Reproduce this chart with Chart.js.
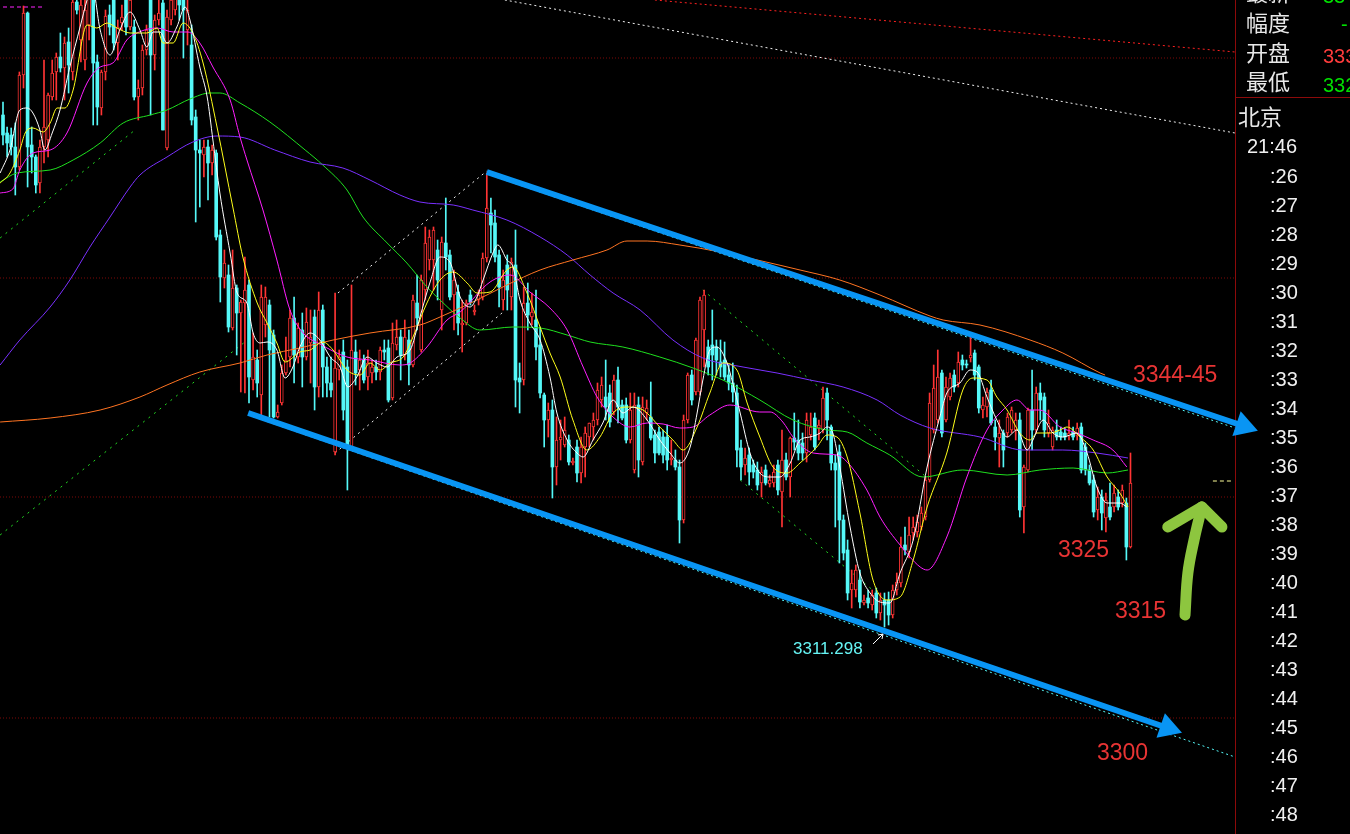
<!DOCTYPE html>
<html>
<head>
<meta charset="utf-8">
<script src="https://cdn.jsdelivr.net/npm/chart.js@4.4.1/dist/chart.umd.min.js"></script>
<style>
  html, body { margin: 0; padding: 0; background: #000; }
  #wrap { position: relative; width: 1350px; height: 834px; }
</style>
</head>
<body>
<div id="wrap"><canvas id="kline"></canvas></div>
<script>
// candles, one per bar index (0..275)
var openP = [
3362.5,3360.7,3360.5,3359.3,3357.3,3366.5,3372.7,3359.5,3358.3,3355.7,
3359.3,3360,3364.3,3366.8,3368.3,3367.2,3369.8,3366.8,3373.8,3370,
3368,3371.5,3374.5,3367.8,3363.2,3366.8,3372.5,3374,3369.7,3371.7,
3374,3371.3,3371.3,3364.3,3365.2,3369,3374,3368.5,3372,3373.7,
3359.2,3372,3373,3374.5,3374,3371,3369.5,3362.3,3359,3358.5,
3359.3,3357.7,3358.7,3350.5,3346.2,3346.5,3341.2,3345.2,3342.7,3343.7,
3345.5,3336,3338,3334.5,3341.5,3343.5,3340.5,3332.3,3333.7,3336.7,
3338.3,3342.2,3338.3,3341,3338.3,3339.7,3342.3,3335.3,3343,3337.3,
3335.7,3328.8,3337,3338.8,3337.3,3329.3,3338.8,3337,3338,3336.3,
3336.7,3337.3,3336.8,3339,3339.2,3334.2,3339.5,3340.3,3338.5,3340,
3337.5,3343.7,3339,3345,3348,3348,3349,3343,3349.7,3348.5,
3344.5,3344.8,3341.5,3341.7,3344.5,3342.8,3344,3344.3,3348.2,3352.7,
3351.7,3348.5,3344,3347.5,3344.3,3347.5,3336.2,3336,3343.7,3342.3,
3342,3339.5,3334.5,3332,3333,3327.3,3330,3329.5,3330,3327.7,
3329.3,3326.7,3329.3,3330.3,3331.3,3332,3334,3334.3,3334.7,3332.8,
3336,3333.5,3333.5,3330,3327,3333.5,3327.8,3332.7,3332.3,3330.5,
3330.8,3330.3,3330.3,3328,3328,3327.3,3322,3332,3336.5,3334.8,
3334.8,3341,3339.3,3339.5,3339.3,3337.8,3338,3336.5,3335.7,3334.7,
3329.2,3327.5,3328.5,3327.5,3327,3325.7,3327,3325.6,3325.7,3327.5,
3324.8,3328,3326.3,3330.2,3330,3329.7,3328.7,3330.5,3332.2,3331.2,
3331,3334.7,3331.3,3327.7,3328.8,3322,3319,3315,3315,3316,
3313.7,3314.2,3313.5,3314.7,3312.7,3314,3314,3312.5,3315,3315.7,
3319.5,3318.8,3320.7,3320.8,3321.3,3322.3,3326,3331,3332,3336.7,
3332,3334.3,3336.5,3335.7,3338,3337.6,3338.2,3338.7,3337.3,3333,
3333.3,3335,3331.3,3330.2,3330.7,3330.7,3331,3331,3332,3323.3,
3327,3333,3331,3334.7,3334.3,3330.7,3329.3,3331,3330.8,3330.7,
3330.4,3330.8,3330.4,3331.3,3329.3,3327,3326,3323,3324.3,3322.2,
3323.3,3323.3,3324.3,3323.7,3323.7,3319.3
];
var highP = [
3363.8,3361.3,3361.2,3361.7,3366.8,3373.4,3372.8,3361.3,3358.5,3360,
3368,3364.7,3368,3368.7,3370.7,3370.3,3371.2,3374,3374.5,3374,
3374,3375.5,3375.5,3368.5,3367,3373,3373.5,3375,3372,3373.5,
3375,3375,3372,3366,3369.5,3371.5,3375,3372.5,3374,3374.5,
3373,3375,3375.5,3375.5,3375,3374,3371.5,3363,3360,3360,
3360,3359.5,3359,3351,3349,3347.5,3349,3345.5,3344,3348.3,
3346,3340.7,3339,3345.5,3345.3,3344,3341,3333.5,3337.5,3340.3,
3343,3344.3,3341.7,3342.7,3343.2,3343,3343,3344.8,3343.5,3338.3,
3338.3,3344.7,3339,3340,3338,3345.5,3340,3339,3338.5,3339,
3338,3338,3339.3,3340,3340,3341.7,3342,3341,3342,3341,
3344.5,3346.5,3346.5,3351.3,3351,3351.3,3350,3350.3,3354.2,3349,
3347,3345.5,3344,3344,3345,3343.5,3345,3348.7,3356.7,3354.2,
3353,3349,3347,3348.5,3348.2,3351,3337.7,3345.3,3345.7,3344.7,
3345,3341.3,3334.7,3333.7,3334,3332.3,3332,3332.3,3330.5,3328.2,
3330,3330.3,3331.3,3331.7,3332.7,3335.7,3336.3,3338,3335.5,3336.5,
3337.3,3334,3334.2,3334.7,3334.7,3334.3,3334.3,3334,3335.8,3331,
3331.3,3331,3331.5,3330,3329,3328,3332.5,3336.7,3337,3340.2,
3344.3,3345,3340,3343,3340,3340,3339.8,3337.5,3337.7,3335.5,
3330,3329.2,3329.2,3328,3327.8,3327.3,3327.5,3326.5,3327.5,3328,
3331,3328.7,3330.3,3332.7,3332,3330.7,3332.7,3332.7,3332.7,3332,
3335.3,3335.2,3331.5,3328.5,3329.5,3322.5,3320,3317,3317.5,3317,
3314.5,3315,3315,3315.2,3314.7,3314.7,3314.8,3315.5,3316.7,3320.3,
3321.3,3322.3,3322.3,3322.5,3323.3,3326.3,3334.7,3337.5,3339,3337,
3336.3,3336.7,3337,3338.8,3338.5,3338,3340.3,3339,3337.5,3334.3,
3335.2,3336,3332,3332,3331,3332.7,3333.3,3332.7,3332.7,3327.5,
3333.2,3337,3335.3,3335.7,3334.7,3333,3331.3,3332,3331.3,3331.2,
3332,3331.3,3331.7,3331.7,3329.7,3327.5,3326.5,3325.3,3325,3324.7,
3325.7,3325.5,3325,3325.5,3324.2,3328.7
];
var lowP = [
3359.5,3358.3,3358.5,3354.5,3357,3365.2,3355.3,3356.7,3354.7,3354.7,
3357.7,3358.3,3364,3364,3366.8,3364,3364.7,3366,3372.6,3367.8,
3367,3370,3361.5,3361.5,3362.5,3366,3370.5,3369,3368,3371,
3370.5,3371,3364,3362,3364.5,3368.5,3362.5,3367,3371.5,3361,
3359,3371.5,3372.5,3372,3368.2,3369.5,3361.5,3351.8,3353.3,3356.3,
3354,3356.5,3350,3343.8,3345.2,3340.8,3341,3338.5,3334.8,3334.7,
3333.7,3335,3334.3,3332.5,3340.3,3332.3,3332.2,3332.2,3333.5,3336.5,
3337.3,3335.7,3337.7,3335.3,3338,3335.7,3333,3334.3,3334.3,3334.3,
3334.3,3328.5,3336,3332,3325,3329,3335.5,3335,3335.7,3335,
3335.7,3336,3336,3338,3333.8,3334,3339,3336,3338,3335.5,
3337.3,3341,3338.8,3344,3347,3345,3344,3341,3347,3344,
3341,3340.5,3338.8,3341.5,3343.5,3342.5,3343.5,3344,3347.8,3348.7,
3347.8,3343.3,3343,3343,3343,3333.3,3332.7,3335.5,3341,3341.5,
3338,3334.2,3329.3,3330.3,3324.2,3325.5,3328,3329.3,3327.5,3327.5,
3325.8,3325.7,3326.3,3329.3,3330,3331.5,3333.3,3332,3331.3,3332.5,
3331.7,3332,3329.7,3329.7,3326.7,3326.3,3327.5,3332,3330,3327.7,
3328.5,3327.7,3327,3327.5,3327,3319.7,3321.7,3331.7,3333.5,3334.5,
3334.5,3337.3,3336.5,3336,3336.5,3336.3,3336,3335,3333.8,3327.3,
3326,3326.5,3325.5,3326.2,3325,3324.3,3325.5,3325.3,3325.3,3324.5,
3321.3,3326,3324.3,3329,3328,3328,3327.8,3330,3329,3330,
3330.7,3330,3327,3321.3,3317.7,3318,3314,3313.2,3314.3,3313.2,
3313.5,3313.2,3313,3312.2,3312,3311.3,3311.5,3312.2,3314.5,3315.3,
3318.5,3318.2,3320,3320.3,3321,3322,3325.8,3330.7,3331.7,3330.3,
3331.8,3334,3334.8,3335.3,3337,3337.2,3337.8,3336,3332.7,3332.2,
3332.3,3331.5,3329,3327.3,3327.3,3330.3,3330.7,3330,3322.3,3320.7,
3326.8,3329,3330.7,3332,3330.3,3330.3,3329,3330,3330,3330,
3330,3330,3330,3326.7,3326.5,3325.5,3322.3,3322,3321,3320.8,
3322,3322.8,3323,3323.3,3318,3319.2
];
var closeP = [
3360.5,3359.7,3359.3,3357.3,3366.5,3372.7,3359.3,3358.3,3355.5,3359.3,
3361.3,3364.5,3366.7,3368.3,3367.2,3369.7,3367.5,3373.8,3373,3373.5,
3373,3374.5,3367.7,3363.3,3366.8,3372.4,3371.3,3369.7,3371.3,3372.3,
3371.3,3374,3364.3,3365.2,3369,3371,3368.5,3372,3372.7,3361,
3372.3,3374,3374.5,3373.5,3373,3373,3362,3359,3358.7,3359.3,
3357.7,3359,3350.3,3346.3,3347.7,3341.3,3345.2,3342.7,3343.8,3345,
3336.3,3338.3,3335.7,3344.3,3344.3,3339,3332.3,3332.8,3336.7,3338,
3342.2,3338.5,3341.2,3338.3,3341.8,3340.3,3335.3,3343,3337.3,3335.7,
3335,3337.2,3338.3,3333,3329.5,3339,3336.7,3338,3336,3337.7,
3337.3,3336.8,3339,3338.8,3334,3339.7,3340.3,3338.5,3340.3,3337.5,
3344,3342.2,3346,3349.7,3350.3,3351,3346,3349.8,3348.3,3344.3,
3346,3341.7,3341.7,3343.7,3343.8,3343,3344.5,3348.2,3353.2,3351.5,
3348.3,3345.3,3346,3345,3347.8,3336,3335.8,3343.7,3342.5,3342.8,
3339.3,3334.7,3332,3333,3327.3,3330,3330.3,3331,3327.8,3327.9,
3326.7,3329.3,3330.7,3331.7,3332,3335,3335.5,3333.3,3331.8,3336,
3333.3,3332.2,3330,3333,3333.5,3328,3333.3,3333.2,3330.2,3328.7,
3328.7,3328.5,3328,3328.2,3327.3,3322,3332,3336.5,3334,3340,
3344,3344.5,3337.3,3338.5,3338,3337.3,3336.3,3335.7,3334.8,3329,
3327.3,3328.2,3326.8,3326.8,3325.5,3326.8,3325.7,3326,3326.8,3325,
3328,3326.3,3330.2,3329.8,3328.7,3328.7,3332,3331.3,3329.3,3331.5,
3334.2,3332,3327.7,3327,3322,3318.7,3314.7,3315.7,3317,3313.8,
3314,3313.7,3314.5,3312.7,3314,3313.5,3312.5,3315,3315.8,3319.3,
3319,3320.5,3321.3,3321.8,3322.7,3326,3333.7,3335.2,3336.3,3330.7,
3335.3,3336.2,3335.3,3337.8,3337.5,3337.5,3338.5,3336.5,3333.2,3333.5,
3334.8,3331.7,3330.3,3330.7,3329,3332.3,3333,3332,3323,3327.3,
3333,3331,3334.7,3334,3331,3331.7,3331,3330.3,3330.3,3330.3,
3330.7,3330.3,3331.2,3327,3327,3325.7,3322.8,3324.3,3322.7,3324,
3322.3,3324.7,3323.3,3325,3319.3,3325.7
];

// moving averages, [bar index, price]
var maWhite = [[-0.7,3356.7],[1.7,3359],[4.1,3363],[5.9,3363.2],[7.3,3362.7],[9,3361],[10.2,3359],[12,3360.7],[13.9,3363],[16.3,3367.3],[18.8,3371.3],[20.5,3374],[21.7,3375.5],[23.7,3371],[26.1,3368.5],[28.5,3371],[31,3372.8],[33.4,3371],[35.1,3369.3],[36.6,3370.8],[38.3,3370.8],[40,3369.7],[42.4,3371.3],[44.4,3373.3],[45.6,3372],[48,3367.3],[49.8,3364.3],[51.2,3360],[52.9,3354.7],[55.4,3348.7],[57.1,3344.7],[59.5,3343.7],[61,3340.7],[62.7,3339.7],[64.4,3339.8],[66.8,3339],[68.8,3336.2],[70.7,3337.3],[72.4,3339.3],[74.9,3340.7],[77.3,3340],[79.8,3338.3],[82.2,3337.3],[84.1,3335.3],[86.3,3336.3],[88.8,3338.3],[91.2,3337.7],[93.7,3337.3],[96.1,3338.3],[99.3,3339],[101.7,3342.3],[104.1,3345.7],[106.6,3348.3],[109,3347.8],[111.5,3344.3],[113.9,3343.3],[115.6,3344.3],[117.1,3346],[119.5,3348.7],[120.7,3349.5],[122.9,3348],[124.4,3347.3],[126.1,3344],[128.5,3341.7],[131,3340],[133.4,3336.3],[135.1,3332.7],[137.6,3330],[140,3328.7],[141.5,3328.3],[143.9,3330],[146.3,3331.7],[148.8,3334],[151.2,3332.7],[153.7,3333.3],[157.1,3332],[160.2,3330],[162.7,3328.7],[165.1,3327.7],[167.6,3329.3],[169.3,3332.7],[170.7,3336],[172.4,3339],[174.1,3339.3],[176.6,3337.7],[178,3335.7],[179.8,3332.7],[182.2,3328.7],[184.6,3326.7],[187.1,3326.3],[189.5,3326.3],[192,3327.7],[194.4,3330],[196.8,3330.3],[199.3,3330.7],[201,3331.3],[202.4,3330.7],[204.1,3327.3],[206.6,3321.3],[209,3316.7],[211.5,3314.7],[213.9,3313.8],[216.3,3313.7],[218.8,3316.7],[222,3320],[225.4,3327.3],[228.5,3332.3],[230.2,3334.7],[233.4,3335.7],[235.9,3337],[237.6,3336.8],[240,3334.3],[242.4,3332],[244.9,3330.3],[247.3,3331],[249.8,3329],[251.2,3330],[253.7,3332],[256.1,3330.7],[258.5,3330.3],[261.9,3330.7],[264.4,3328.7],[266.8,3325.3],[269.3,3323.7],[272.4,3323.7],[274.1,3323.3]];
var maYellow = [[-0.7,3355.7],[1.7,3356.7],[4.1,3359],[5.4,3360.7],[7.3,3361.2],[9.8,3360.8],[11.5,3361.7],[13.2,3363.2],[15.1,3363.2],[17.1,3365],[20.5,3371.5],[22.9,3371.2],[25.4,3371.7],[27.8,3371.2],[31,3370.7],[35.1,3370.7],[37.6,3371.2],[39,3369.7],[41.5,3369.7],[43.9,3371.7],[46.3,3370.7],[48.8,3367.7],[52.2,3361.3],[56.1,3353.2],[58.5,3348.3],[62,3343.7],[64.4,3341.7],[66.8,3339.7],[68.8,3337.8],[72.4,3338.8],[74.9,3339],[78,3339.8],[80.5,3339],[83.9,3337],[87.1,3336.5],[89.5,3337.7],[92,3337],[94.4,3337.7],[97.6,3338.3],[100,3340.3],[103.4,3343.7],[106.6,3346],[109.8,3346.8],[113.2,3345.7],[115.6,3344.7],[118.8,3344.8],[122.9,3347],[124.4,3347.3],[127.8,3344.7],[131,3341.3],[133.4,3338.7],[135.9,3336.3],[139,3332],[142.4,3329],[145.6,3330.3],[148.8,3332.7],[152.2,3333.3],[156.1,3333],[160.2,3331.3],[163.4,3330],[165.9,3329],[169.3,3331.3],[172.4,3334.7],[175.6,3337.7],[179,3337],[181.5,3333.7],[184.6,3330.3],[187.8,3327.3],[191.2,3326.7],[194.4,3327.7],[198.5,3329.3],[201,3330.5],[203.4,3330.3],[205.9,3328.3],[209,3322.7],[212.2,3316],[215.6,3314],[218.8,3314.3],[222,3318],[225.4,3323.3],[230.2,3328.7],[234.1,3335],[236.6,3336.2],[240,3336],[242.4,3334.3],[244.9,3333],[248,3330.7],[250.5,3330],[252.2,3330.7],[255.4,3330.7],[257.8,3331],[259.5,3331.3],[262.7,3330.3],[265.9,3329],[269.3,3326.3],[272.4,3324.7],[274.4,3323.3]];
var maMagenta = [[-0.7,3354.7],[2.4,3355.1],[4.1,3357],[7.3,3358.7],[11.5,3359],[15.6,3360.7],[20.5,3365.7],[23.7,3367.3],[26.8,3367.7],[30.2,3370],[31.7,3370.5],[37.6,3371.2],[41.5,3370.8],[45.1,3370.8],[48,3369.7],[51.2,3367.3],[55.4,3364],[57.8,3360.3],[59.5,3358],[63.4,3353],[66.8,3348],[70,3343],[73.2,3340.7],[77.3,3339.6],[83.9,3338.3],[89.5,3338],[96.8,3337.5],[99.3,3337.7],[103.4,3339.3],[108.3,3342],[111.5,3342.8],[118.8,3345.8],[123.7,3346.5],[128.5,3344.8],[133.4,3343.2],[137.6,3341],[141.5,3337.3],[144.9,3334.3],[148.8,3332.3],[152.9,3331.3],[157.1,3331.7],[161,3331.6],[165.1,3331.2],[168.3,3331.3],[172.4,3332.5],[177.3,3333.5],[184.6,3332.8],[187.1,3332.8],[190.2,3331.8],[192.7,3330.3],[197.6,3328.7],[203.4,3328.5],[205.9,3327.8],[210.7,3325],[213.9,3322.3],[218.8,3319.5],[223.7,3317.3],[225.4,3317],[230.2,3320.3],[235.1,3326.3],[240,3331],[243.9,3333],[247.3,3334],[250.5,3333],[252.9,3333],[257.8,3331.3],[261.9,3330.7],[265.9,3330],[270.7,3329],[274.1,3327.3]];
var maGreen = [[-0.7,3355.8],[3.4,3356.7],[11.5,3357],[17.1,3358],[23.7,3359.7],[29.3,3361.7],[35.9,3362.5],[40,3363],[45.6,3364.1],[50.5,3364.7],[52.9,3364.7],[57.8,3363.7],[65.1,3361.8],[73.7,3359],[78,3357.5],[83.9,3355],[87.8,3352.3],[93.7,3349.7],[98.5,3347.7],[103.4,3345.3],[106.6,3344],[111.5,3342.2],[116.3,3341],[124.4,3341.3],[131,3341.2],[137.6,3340.5],[143.2,3339.8],[151.2,3339.3],[160.2,3338.3],[168.3,3337.2],[176.6,3335.8],[184.6,3334],[192.7,3332],[201,3331],[205.9,3330.8],[210.7,3329.7],[216.3,3328.5],[224.4,3326.3],[234.1,3327],[244.9,3326.5],[252.9,3327],[261,3327.2],[269.3,3326.7],[274.4,3327]];
var maPurple = [[-0.7,3337.5],[4.1,3340],[11.5,3343.3],[16.3,3346],[21.2,3349.3],[26.1,3352.3],[31,3355.3],[33.4,3356.5],[40,3358.3],[46.3,3359.8],[52.2,3360.4],[57.8,3360.3],[66.3,3359],[74.9,3357.8],[82.9,3357.2],[89.5,3356],[96.8,3354.5],[101.7,3353.8],[109.8,3353.5],[114.6,3353],[122.9,3352],[131,3350.3],[137.6,3348.5],[143.2,3346.5],[148.8,3344.7],[155.4,3343],[163.4,3340],[170.7,3338.2],[180.5,3337.3],[188.8,3336.7],[196.8,3336],[204.9,3335.3],[213.2,3334],[218.8,3332.5],[226.1,3331.2],[238.3,3330.3],[248.8,3329],[258.5,3329],[266.8,3328.7],[274.4,3328.2]];
var maOrange = [[-0.7,3331.8],[11.5,3332.2],[23.7,3333],[33.4,3334.3],[40,3335.5],[48,3336.8],[57.8,3337.7],[64.4,3338.5],[72.4,3339.2],[80.5,3340],[89.5,3340.7],[101.7,3341.5],[106.6,3342.3],[114.6,3343.8],[122.9,3345.5],[131,3347],[139,3348],[147.3,3349],[152.2,3349.9],[157.1,3349.9],[165.1,3349.5],[174.9,3348.8],[194.4,3347],[204.1,3346],[213.9,3344.5],[226.1,3342.4],[229.3,3342],[238.3,3341.5],[250.5,3340],[258.5,3338.7],[267.6,3336.7],[268.8,3336.5]];

// drawn objects on the chart, [bar index, price]
var gridLevels = [3368.2, 3346.2, 3324.3, 3302.2];
var arrowUpper = [[118, 3356.8], [302.6, 3331.4]];
var arrowLower = [[59.8, 3332.7], [284.1, 3301.2]];
var dotCyanUpper = [[118, 3356.6], [300.5, 3331.2]];
var dotCyanLower = [[59.8, 3332.5], [300.5, 3298.3]];
var dotWhiteTop = [[122.4, 3374], [300.5, 3360.7]];
var dotRedTop = [[159, 3374], [300.5, 3368.8]];
var dotGreenA = [[-0.7, 3350.2], [32.2, 3361]];
var dotGreenB = [[-0.7, 3320.5], [59, 3339.8]];
var dotBoxUpper = [[81.7, 3344.7], [118, 3356.9]];
var dotBoxLower = [[81, 3328.7], [122, 3342.8]];
var dotGreenMidUpper = [[170.7, 3345], [224.9, 3326.4]];
var dotGreenMidLower = [[179.8, 3326], [212.7, 3314.8]];
var lastPriceMark = [[295.1, 3325.9], [300, 3325.9]];
var topLeftMark = [[0, 3373.3], [10.2, 3373.3]];
var handShaft = [[288.3, 3312.5], [289, 3316.7], [290.5, 3320], [292.4, 3323.3]];
var handHead = [[284.1, 3321.3], [292.4, 3323.3], [297.3, 3321.3]];

// texts
var targetLabels = ['3344-45', '3325', '3315', '3300'];
var lowLabel = '3311.298';
var quoteNames = ['最新', '幅度', '开盘', '最低'];
var quoteValues = ['33', '-', '333', '332'];
var timeLabels = [':26',':27',':28',':29',':30',':31',':32',':33',':34',':35',':36',':37',':38',':39',':40',':41',':42',':43',':44',':45',':46',':47',':48'];

var UP = '#ff3434', DOWN = '#55f8f8', BLUE = '#0995f4';

var wicks = [], bodies = [], wickCol = [], bodyFill = [], bodyEdge = [], bodyBw = [];
for (var i = 0; i < openP.length; i++) {
    var up = closeP[i] >= openP[i];
    wicks.push({ x: i, y: [lowP[i], highP[i]] });
    bodies.push({ x: i, y: [openP[i], closeP[i]] });
    wickCol.push(up ? UP : DOWN);
    bodyFill.push(up ? '#000' : DOWN);
    bodyEdge.push(up ? UP : DOWN);
    bodyBw.push(up ? 1 : 0);
}

function pts(arr) { return arr.map(function (p) { return { x: p[0], y: p[1] }; }); }

function seg(arr, color, width, dash, order) {
    return { type: 'line', data: pts(arr), borderColor: color, borderWidth: width,
        borderDash: dash || [], pointRadius: 0, fill: false, tension: 0, order: order };
}
function ma(arr, color, order) {
    var d = seg(arr, color, 1, null, order);
    d.cubicInterpolationMode = 'monotone';
    return d;
}
function head(p, rot, r) {
    return { type: 'line', data: pts([p]), showLine: false, pointStyle: 'triangle',
        pointRadius: r, pointRotation: rot, pointBackgroundColor: BLUE,
        pointBorderWidth: 0, order: 2 };
}

var datasets = [];
gridLevels.forEach(function (g) {
    datasets.push(seg([[-0.73, g], [300.5, g]], '#7d0808', 1, [1, 2], 20));
});
datasets.push(seg(dotWhiteTop, '#f0f0f0', 1, [2, 3], 15));
datasets.push(seg(dotRedTop, '#ff2020', 1, [2, 3], 15));
datasets.push(seg(dotGreenA, '#22dd22', 1, [2, 5], 15));
datasets.push(seg(dotGreenB, '#22dd22', 1, [2, 5], 15));
datasets.push(seg(dotBoxUpper, '#f0f0f0', 1, [2, 4], 15));
datasets.push(seg(dotBoxLower, '#f0f0f0', 1, [2, 4], 15));
datasets.push(seg(dotGreenMidUpper, '#22dd22', 1, [2, 5], 15));
datasets.push(seg(dotGreenMidLower, '#22dd22', 1, [2, 5], 15));
datasets.push(seg(dotCyanUpper, '#55f8f8', 1, [2, 3], 15));
datasets.push(seg(dotCyanLower, '#55f8f8', 1, [2, 3], 15));

datasets.push({ type: 'bar', data: wicks, backgroundColor: wickCol, barThickness: 1,
    grouped: false, minBarLength: 1, borderWidth: 0, order: 12 });
datasets.push({ type: 'bar', data: bodies, backgroundColor: bodyFill, borderColor: bodyEdge,
    borderWidth: bodyBw, borderSkipped: false, barThickness: 3, grouped: false,
    minBarLength: 1, order: 11 });

datasets.push(ma(maOrange, '#ff7422', 9));
datasets.push(ma(maPurple, '#7a30ff', 9));
datasets.push(ma(maGreen, '#1fe01f', 9));
datasets.push(ma(maMagenta, '#ff1eff', 8));
datasets.push(ma(maYellow, '#ffff1a', 7));
datasets.push(ma(maWhite, '#ffffff', 6));

datasets.push(seg(lastPriceMark, '#ffff99', 1, [4, 3], 5));
datasets.push(seg(topLeftMark, '#ff22ff', 1, [4, 3], 5));

datasets.push(seg(arrowUpper, BLUE, 6, null, 3));
datasets.push(seg(arrowLower, BLUE, 6, null, 3));
datasets.push(head(arrowUpper[1], 108.6, 15));
datasets.push(head(arrowLower[1], 108.9, 15));

var hs = seg(handShaft, '#8dc63f', 11, null, 1);
hs.tension = 0.4; hs.borderCapStyle = 'round'; hs.borderJoinStyle = 'round';
datasets.push(hs);
var hh = seg(handHead, '#8dc63f', 11, null, 1);
hh.borderCapStyle = 'round'; hh.borderJoinStyle = 'round';
datasets.push(hh);

function text(ctx, s, x, y, font, color, base) {
    ctx.font = font;
    ctx.fillStyle = color;
    ctx.textAlign = 'left';
    ctx.textBaseline = base || 'alphabetic';
    ctx.fillText(s, x, y);
}

var panel = {
    id: 'panel',
    beforeDraw: function (chart) {
        var c = chart.ctx;
        c.save();
        c.fillStyle = '#000';
        c.fillRect(0, 0, chart.width, chart.height);
        c.restore();
    },
    beforeDatasetsDraw: function (chart) {
        var c = chart.ctx;
        c.save();
        c.strokeStyle = '#8c0a0a';
        c.lineWidth = 1;
        c.beginPath();
        c.moveTo(1235.5, 0); c.lineTo(1235.5, 834);
        c.moveTo(1236, 97.5); c.lineTo(1350, 97.5);
        c.stroke();
        c.restore();
    },
    afterDraw: function (chart) {
        var c = chart.ctx;
        c.save();
        var cjk = '22px "Noto Sans CJK SC", sans-serif';
        var num = '20px "Liberation Sans", Arial, sans-serif';
        var rows = [-7, 23, 53, 82];
        var valCol = ['#00e000', '#00e000', '#ff3c3c', '#00e000'];
        var valX = [1323, 1341, 1323, 1323];
        var valY = [3, 31, 63, 92];
        for (var k = 0; k < quoteNames.length; k++) {
            text(c, quoteNames[k], 1246, rows[k], cjk, '#e8e8e8', 'middle');
            text(c, quoteValues[k], valX[k], valY[k], num, valCol[k]);
        }
        text(c, '北京', 1238, 117, cjk, '#e8e8e8', 'middle');
        text(c, '21:46', 1247, 153, num, '#f0f0f0');
        timeLabels.forEach(function (t, j) {
            text(c, t, 1270, 183 + 29 * j, num, '#f0f0f0');
        });

        var big = '23px "Liberation Sans", Arial, sans-serif';
        var red = '#e83434';
        text(c, targetLabels[0], 1133, 382, big, red);
        text(c, targetLabels[1], 1058, 557, big, red);
        text(c, targetLabels[2], 1115, 618, big, red);
        text(c, targetLabels[3], 1097, 760, big, red);
        text(c, lowLabel, 793, 654, '17px "Liberation Sans", Arial, sans-serif', '#66f4f4');

        c.strokeStyle = '#ffffff';
        c.lineWidth = 1;
        c.beginPath();
        c.moveTo(873, 644); c.lineTo(883, 634);
        c.moveTo(883, 634); c.lineTo(878, 635);
        c.moveTo(883, 634); c.lineTo(882, 639);
        c.stroke();
        c.restore();
    }
};

new Chart(document.getElementById('kline'), {
    type: 'bar',
    data: { datasets: datasets },
    options: {
        responsive: true, maintainAspectRatio: false, animation: false, events: [],
        layout: { padding: 0, autoPadding: false },
        plugins: { legend: { display: false }, tooltip: { enabled: false } },
        scales: {
            x: { type: 'linear', display: false, min: -0.732, max: 328.54, offset: false,
                 grid: { display: false, offset: false } },
            y: { type: 'linear', display: false, min: 3290.6, max: 3374, beginAtZero: false,
                 grid: { display: false } }
        }
    },
    plugins: [panel]
});
</script>
</body>
</html>
